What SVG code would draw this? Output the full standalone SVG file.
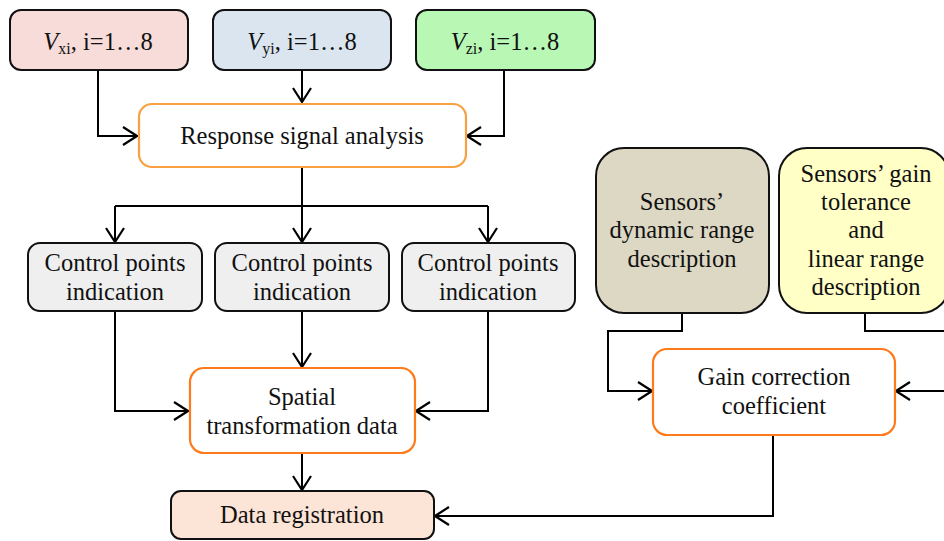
<svg xmlns="http://www.w3.org/2000/svg" width="944" height="541" viewBox="0 0 944 541">
<defs>
<marker id="ah" viewBox="-16 -11 17 22" refX="0" refY="0" markerWidth="17" markerHeight="22" markerUnits="userSpaceOnUse" orient="auto">
<polyline points="-14,-9 0,0 -14,9" fill="none" stroke="#000" stroke-width="2.2"/>
</marker>
<style>
text{font-family:"Liberation Serif","Times New Roman",serif;font-size:24.5px;fill:#111;text-anchor:middle}
.sub{font-size:16px}
.k{stroke:#111;stroke-width:2}
.o1{stroke:#F9A040;stroke-width:2.2}
.o2{stroke:#FF7A1A;stroke-width:2.2}
.c path{fill:none;stroke:#000;stroke-width:2}
</style>
</defs>
<rect width="944" height="541" fill="#fff"/>
<g class="c" id="connectors">
<path d="M98,70 V136 H137" marker-end="url(#ah)"/>
<path d="M302,70 V102" marker-end="url(#ah)"/>
<path d="M504,70 V136 H467" marker-end="url(#ah)"/>
<path d="M302,167 V206"/>
<path d="M115,206 H488"/>
<path d="M115,206 V242" marker-end="url(#ah)"/>
<path d="M302,206 V242" marker-end="url(#ah)"/>
<path d="M488,206 V242" marker-end="url(#ah)"/>
<path d="M115,311 V411 H188" marker-end="url(#ah)"/>
<path d="M302,311 V367" marker-end="url(#ah)"/>
<path d="M488,311 V411 H416" marker-end="url(#ah)"/>
<path d="M302,453 V490" marker-end="url(#ah)"/>
<path d="M682,313 V331 H608 V391 H652" marker-end="url(#ah)"/>
<path d="M865,313 V331 H960"/>
<path d="M960,391 H896" marker-end="url(#ah)"/>
<path d="M773,435 V516 H435" marker-end="url(#ah)"/>
</g>
<g id="vxi">
<rect x="10" y="10" width="178" height="60" rx="11" fill="#F8DCDA" class="k"/>
<text x="98" y="50"><tspan font-style="italic">V</tspan><tspan class="sub" dy="4">xi</tspan><tspan dy="-4">, i=1…8</tspan></text>
</g>
<g id="vyi">
<rect x="213" y="10" width="178" height="60" rx="11" fill="#DAE5F0" class="k"/>
<text x="302" y="50"><tspan font-style="italic">V</tspan><tspan class="sub" dy="4">yi</tspan><tspan dy="-4">, i=1…8</tspan></text>
</g>
<g id="vzi">
<rect x="416" y="10" width="179" height="60" rx="11" fill="#B8F8B4" class="k"/>
<text x="505" y="50"><tspan font-style="italic">V</tspan><tspan class="sub" dy="4">zi</tspan><tspan dy="-4">, i=1…8</tspan></text>
</g>
<g id="response">
<rect x="139" y="104" width="327" height="63" rx="13" fill="#fff" class="o1"/>
<text x="302" y="144">Response signal analysis</text>
</g>
<g id="cp1">
<rect x="28" y="243" width="174" height="68" rx="12" fill="#EFEFEF" class="k"/>
<text x="115" y="271">Control points</text>
<text x="115" y="300">indication</text>
</g>
<g id="cp2">
<rect x="215" y="243" width="174" height="68" rx="12" fill="#EFEFEF" class="k"/>
<text x="302" y="271">Control points</text>
<text x="302" y="300">indication</text>
</g>
<g id="cp3">
<rect x="402" y="243" width="173" height="68" rx="12" fill="#EFEFEF" class="k"/>
<text x="488" y="271">Control points</text>
<text x="488" y="300">indication</text>
</g>
<g id="spatial">
<rect x="190" y="368" width="225" height="85" rx="14" fill="#fff" class="o2"/>
<text x="302" y="405">Spatial</text>
<text x="302" y="434">transformation data</text>
</g>
<g id="datareg">
<rect x="171" y="491" width="263" height="48" rx="10" fill="#FCE4D6" class="k"/>
<text x="302" y="523">Data registration</text>
</g>
<g id="dynamic">
<rect x="596" y="148" width="173" height="165" rx="28" fill="#DDD8C4" class="k"/>
<text x="682" y="210">Sensors’</text>
<text x="682" y="238">dynamic range</text>
<text x="682" y="267">description</text>
</g>
<g id="gaintol">
<rect x="779" y="148" width="170" height="165" rx="28" fill="#FFFFC6" class="k"/>
<text x="866" y="182">Sensors’ gain</text>
<text x="866" y="210">tolerance</text>
<text x="866" y="238">and</text>
<text x="866" y="267"> linear range</text>
<text x="866" y="295">description</text>
</g>
<g id="gaincorr">
<rect x="653" y="349" width="242" height="86" rx="14" fill="#fff" class="o2"/>
<text x="774" y="385">Gain correction</text>
<text x="774" y="414">coefficient</text>
</g>
</svg>
